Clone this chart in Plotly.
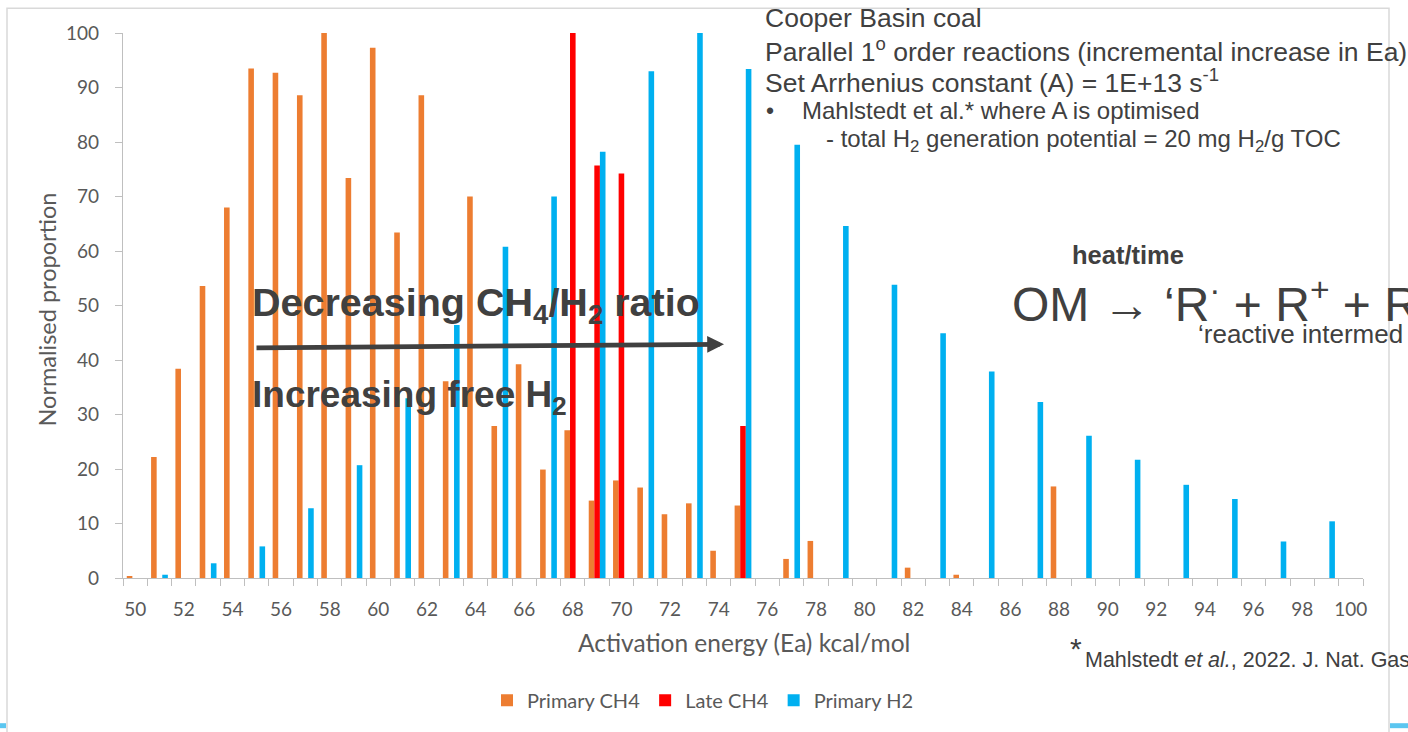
import plotly.graph_objects as go

# Activation-energy categories (kcal/mol)
ea = [50, 51, 52, 53, 54, 55, 56, 57, 58, 59,
      60, 61, 62, 63, 64, 65, 66, 67, 68, 69,
      70, 71, 72, 73, 74, 75, 76, 77, 78, 79,
      80, 81, 82, 83, 84, 85, 86, 87, 88, 89,
      90, 91, 92, 93, 94, 95, 96, 97, 98, 99, 100]

# Normalised proportions per series (None = no reaction at that energy)
primary_ch4 = [0.3, 22.2, 38.4, 53.6, 68.0, 93.5, 92.7, 88.6, 100.0, 73.4,
               97.3, 63.4, 88.6, 36.1, 70.0, 27.9, 39.2, 19.9, 27.1, 14.2,
               17.9, 16.6, 11.7, 13.7, 5.0, 13.3, None, 3.5, 6.8, None,
               None, None, 1.9, None, 0.6, None, None, None, 16.8, None,
               None, None, None, None, None, None, None, None, None, None, None]

late_ch4 = [None] * 18 + [100.0, 75.7, 74.2, None, None, None, None, 27.9] + [None] * 25

primary_h2 = [None, 0.6, None, 2.7, None, 5.8, None, 12.8, None, 20.7,
              None, 33.0, None, 46.4, None, 60.8, None, 70.0, None, 78.2,
              None, 93.0, None, 100.0, None, 93.4, None, 79.5, None, 64.6,
              None, 53.8, None, 44.9, None, 37.9, None, 32.3, None, 26.1,
              None, 21.7, None, 17.1, None, 14.5, None, 6.7, None, 10.4, None]

x_tick_vals = [50, 52, 54, 56, 58, 60, 62, 64, 66, 68, 70, 72, 74,
               76, 78, 80, 82, 84, 86, 88, 90, 92, 94, 96, 98, 100]
y_tick_vals = [0, 10, 20, 30, 40, 50, 60, 70, 80, 90, 100]

W, H = 1408, 732
ML, MR, MT, MB = 123, 45, 33, 151
PW, PH = W - ML - MR, H - MT - MB


def px_x(p):
    return (p - ML) / PW


def px_y(p):
    return (H - MB - p) / PH


AXIS_FONT = "Lato"
SLIDE_FONT = "Liberation Sans"
AXIS_GREY = "#595959"
TEXT_GREY = "#404040"
LINE_GREY = "#bfbfbf"

fig = go.Figure()
fig.add_trace(go.Bar(x=ea, y=primary_ch4, name="Primary CH4", marker_color="#ED7D31"))
fig.add_trace(go.Bar(x=ea, y=late_ch4, name="Late CH4", marker_color="#FF0000"))
fig.add_trace(go.Bar(x=ea, y=primary_h2, name="Primary H2", marker_color="#00B0F0"))
fig.update_traces(marker_line_width=0)

boundaries = [v - 0.5 for v in ea] + [ea[-1] + 0.5]

fig.update_layout(
    width=W, height=H,
    margin=dict(l=ML, r=MR, t=MT, b=MB, pad=0),
    paper_bgcolor="white", plot_bgcolor="white",
    barmode="group", bargap=0.31, bargroupgap=0,
    font=dict(family=AXIS_FONT, color=AXIS_GREY, size=19),
    showlegend=True,
    legend=dict(orientation="h", x=px_x(703), y=px_y(704), xanchor="center", yanchor="middle",
                font=dict(family=AXIS_FONT, size=20, color=AXIS_GREY), bgcolor="rgba(0,0,0,0)"),
    xaxis=dict(range=[49.5, 100.5], tickmode="array", tickvals=x_tick_vals,
               ticktext=[str(v) for v in x_tick_vals], ticks="", showline=True,
               linecolor=LINE_GREY, linewidth=1.3, showgrid=False, zeroline=False,
               ticklabelstandoff=14, tickfont=dict(size=19, color=AXIS_GREY),
               minor=dict(tickmode="array", tickvals=boundaries, ticks="outside",
                          ticklen=7, tickcolor=LINE_GREY, tickwidth=1.3, showgrid=False)),
    yaxis=dict(range=[0, 100], tickmode="array", tickvals=y_tick_vals, ticks="outside",
               ticklen=7, tickcolor=LINE_GREY, tickwidth=1.3, showline=True,
               linecolor=LINE_GREY, linewidth=1.3, showgrid=False, zeroline=False,
               ticklabelstandoff=12, tickfont=dict(size=19, color=AXIS_GREY)),
)

ann = []


def text(x, y, s, size, bold=False, color=TEXT_GREY, family=SLIDE_FONT, xanchor="left", angle=0):
    if bold:
        s = "<b>" + s + "</b>"
    ann.append(dict(x=px_x(x), y=px_y(y), xref="paper", yref="paper", text=s, showarrow=False,
                    xanchor=xanchor, yanchor="middle", textangle=angle,
                    font=dict(family=family, size=size, color=color)))


# axis titles
text(744, 646, "Activation energy (Ea) kcal/mol", 24.5, color=AXIS_GREY, family=AXIS_FONT, xanchor="center")
text(47, 311, "Normalised proportion", 23.5, color=AXIS_GREY, family=AXIS_FONT, xanchor="center", angle=-90)

# method notes
text(763, 18, "Cooper Basin coal", 26.5)
text(763, 50, "Parallel 1<sup>o</sup> order reactions (incremental increase in Ea)", 26.5)
text(763, 81, "Set Arrhenius constant (A) = 1E+13 s<sup>-1</sup>", 26.5)
text(764, 111, "•", 23)
text(800, 111, "Mahlstedt et al.* where A is optimised", 24)
text(824, 141, "- total H<sub>2</sub> generation potential = 20 mg H<sub>2</sub>/g TOC", 24)

# trend labels
text(250, 306, "Decreasing CH<sub>4</sub>/H<sub>2</sub> ratio", 39.5, bold=True)
text(250, 399, "Increasing free H<sub>2</sub>", 37, bold=True)

# reaction scheme
text(1128, 256, "heat/time", 25.5, bold=True, xanchor="center")
text(1010, 302, "OM → ‘R<sup>·</sup> + R<sup>+</sup> + R", 48)
text(1196, 336, "‘reactive intermed", 26)

# reference
text(1068, 652, "*", 30)
text(1083, 663, "Mahlstedt <i>et al.</i>, 2022. J. Nat. Gas", 21.5)

# trend arrow
ann.append(dict(x=px_x(724), y=px_y(346), xref="paper", yref="paper", ax=255 - 724, ay=3.5,
                axref="pixel", ayref="pixel", showarrow=True, arrowhead=2, arrowsize=0.7,
                arrowwidth=4.8, arrowcolor=TEXT_GREY, text=""))

fig.update_layout(annotations=ann)

# slide frame and bottom strip
fig.add_shape(type="rect", xref="paper", yref="paper", x0=px_x(7), x1=px_x(1389),
              y0=px_y(760), y1=px_y(8), line=dict(color="#d9d9d9", width=1.5), layer="below")
fig.add_shape(type="rect", xref="paper", yref="paper", x0=px_x(0), x1=px_x(6),
              y0=px_y(732), y1=px_y(727), line_width=0, fillcolor="#5bc6f0")
fig.add_shape(type="rect", xref="paper", yref="paper", x0=px_x(1390), x1=px_x(1408),
              y0=px_y(732), y1=px_y(727), line_width=0, fillcolor="#5bc6f0")

fig.write_html("out.html")
